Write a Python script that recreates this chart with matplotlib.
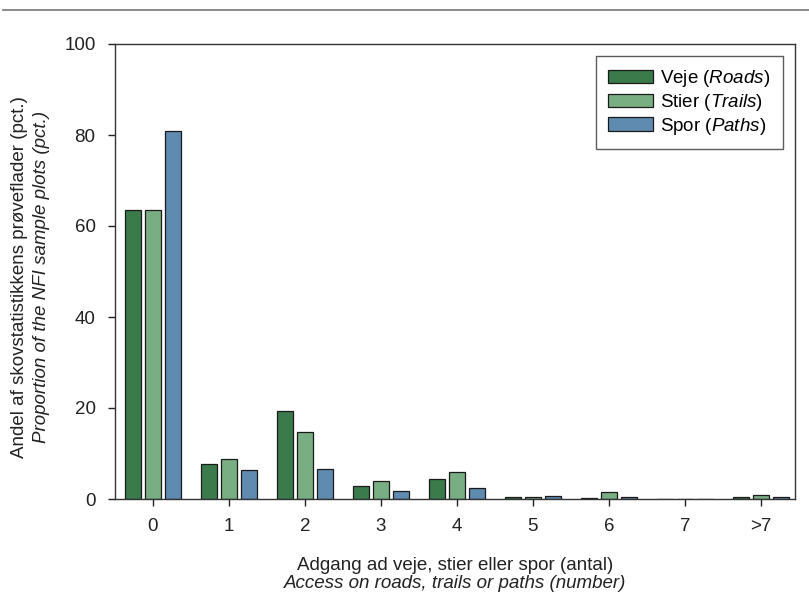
"""
Adgang ad veje, stier eller spor — søjlediagram (tre serier pr. kategori).
"""
import matplotlib
matplotlib.use("Agg")
import matplotlib.pyplot as plt
from matplotlib.lines import Line2D
from matplotlib.patches import Patch
import numpy as np

plt.rcParams["font.family"] = ["Liberation Sans", "DejaVu Sans"]
plt.rcParams["mathtext.fontset"] = "custom"
plt.rcParams["mathtext.rm"] = "Liberation Sans"
plt.rcParams["mathtext.it"] = "Liberation Sans:italic"

# data (pct.)
kategorier = ["0", "1", "2", "3", "4", "5", "6", "7", ">7"]
veje = [63.6, 7.6, 19.4, 2.9, 4.5, 0.4, 0.3, 0.0, 0.5]
stier = [63.6, 8.7, 14.8, 3.9, 6.0, 0.5, 1.5, 0.0, 0.8]
spor = [80.9, 6.4, 6.5, 1.8, 2.5, 0.6, 0.5, 0.0, 0.5]

serier = [
    ("Veje", "Roads", veje, "#3b7b4b"),
    ("Stier", "Trails", stier, "#79ae83"),
    ("Spor", "Paths", spor, "#5f8bb0"),
]

W, H = 809, 597
fig = plt.figure(figsize=(W / 100, H / 100), dpi=100)
ax = fig.add_axes([115 / W, 1 - 499 / H, (795 - 115) / W, (499 - 44) / H])

x = np.arange(len(kategorier))
bredde = 0.215
afst = 0.265
handles = []
for i, (dk, en, vals, farve) in enumerate(serier):
    ax.bar(x + (i - 1) * afst, vals, width=bredde, color=farve,
           edgecolor="#1a1a1a", linewidth=0.9, zorder=2)
    handles.append(Patch(facecolor=farve, edgecolor="#1a1a1a", linewidth=0.9,
                         label=f"{dk} ($\\it{{{en}}}$)"))

ax.set_xlim(-0.5, 8.45)
ax.set_ylim(0, 100)
ax.set_xticks(x)
ax.set_xticklabels(kategorier)
ax.set_yticks([0, 20, 40, 60, 80, 100])
ax.tick_params(axis="both", direction="out", length=5, width=1,
               labelsize=13.5, colors="#222222", pad=9)
for s in ax.spines.values():
    s.set_linewidth(1.0)
    s.set_color("#333333")

leg = ax.legend(handles=handles, loc="upper right", bbox_to_anchor=(0.982, 0.974),
                borderaxespad=0, fontsize=13.5, frameon=True, fancybox=False,
                edgecolor="#333333", handlelength=2.4, handleheight=0.72,
                labelspacing=0.15, borderpad=0.65, handletextpad=0.4)
leg.get_frame().set_linewidth(1.0)

# aksetitler (to linjer, dansk + engelsk i kursiv)
fig.text(20 / W, 1 - 277 / H, "Andel af skovstatistikkens prøveflader (pct.)",
         rotation=90, ha="center", va="center", fontsize=13.5, color="#222222")
fig.text(42 / W, 1 - 277 / H, "Proportion of the NFI sample plots (pct.)",
         rotation=90, ha="center", va="center", fontsize=13.5, color="#222222",
         style="italic")
fig.text(455 / W, 1 - 565 / H, "Adgang ad veje, stier eller spor (antal)",
         ha="center", va="center", fontsize=13.5, color="#222222")
fig.text(455 / W, 1 - 584 / H, "Access on roads, trails or paths (number)",
         ha="center", va="center", fontsize=13.5, color="#222222", style="italic")

# grå linje øverst
fig.add_artist(Line2D([3 / W, 1], [1 - 10 / H, 1 - 10 / H], color="#777777",
                      linewidth=1.2, transform=fig.transFigure))

fig.savefig("out.png", dpi=100)
